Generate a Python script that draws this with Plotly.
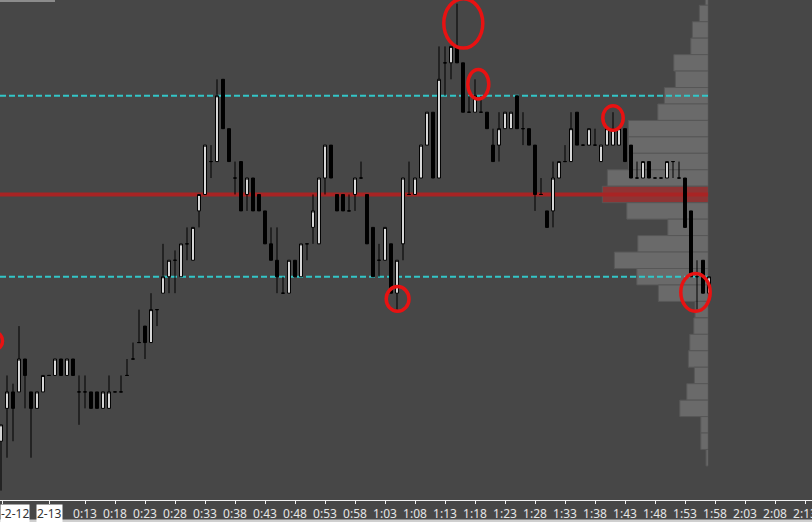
import plotly.graph_objects as go

# one candle per minute, minute 0 = 00:00 on 2-13
minutes = list(range(-1, 118))

opens = [6003, 6005, 6006, 6006, 6008, 6006, 6005, 6006, 6007, 6007,
         6008, 6007, 6008, 6006, 6006, 6006, 6006, 6005, 6005, 6006,
         6006, 6007, 6008, 6009, 6010, 6009, 6011, 6012, 6013, 6014,
         6013, 6015, 6014, 6017, 6018, 6020, 6020, 6025, 6022, 6019,
         6020, 6018, 6019, 6018, 6017, 6015, 6014, 6012, 6012, 6014,
         6013, 6015, 6016, 6015, 6019, 6021, 6018, 6018, 6017, 6018,
         6019, 6018, 6016, 6014, 6014, 6015, 6012, 6015, 6018, 6018,
         6019, 6021, 6023, 6019, 6026, 6026, 6027, 6026, 6023, 6023,
         6023, 6023, 6021, 6021, 6022, 6022, 6024, 6022, 6022, 6021,
         6018, 6017, 6017, 6019, 6020, 6020, 6023, 6021, 6021, 6021,
         6020, 6021, 6021, 6021, 6022, 6021, 6019, 6019, 6020, 6019,
         6019, 6019, 6020, 6019, 6019, 6017, 6013, 6014, 6012]
highs = [6004, 6007, 6006.5, 6010, 6008, 6006, 6006, 6007, 6007, 6008,
         6008, 6008, 6008, 6007, 6007, 6006, 6006, 6006, 6007, 6006,
         6007, 6008, 6009, 6011, 6010, 6012, 6011, 6015, 6014, 6014.6,
         6015, 6016, 6016, 6018, 6021, 6021, 6025, 6025, 6022, 6020,
         6020, 6019, 6019, 6018, 6017, 6016, 6016, 6013, 6014, 6014,
         6015, 6015, 6018, 6019, 6021, 6021, 6018, 6018, 6018, 6019,
         6020, 6018, 6016, 6015, 6016, 6015, 6014, 6019, 6020, 6019,
         6021, 6023, 6023, 6027, 6027, 6027, 6029.6, 6026, 6024, 6025,
         6024, 6023, 6022, 6023, 6023, 6023, 6024, 6023, 6022, 6021,
         6019, 6017, 6020, 6020, 6021, 6023, 6023, 6021, 6022, 6022,
         6021, 6022, 6023, 6022, 6022, 6021, 6020, 6020, 6020, 6019,
         6019, 6020, 6020, 6020, 6019, 6017, 6014, 6014, 6013]
lows = [6000, 6002, 6003, 6006, 6005, 6002, 6005, 6006, 6007, 6007,
        6007, 6007, 6007, 6004, 6005, 6005, 6005, 6005, 6005, 6006,
        6006, 6007, 6008, 6009, 6008, 6009, 6010, 6012, 6012, 6012,
        6013, 6014, 6014, 6016, 6018, 6019, 6020, 6022, 6020, 6018,
        6017, 6017, 6017, 6017, 6015, 6014, 6012, 6012, 6012, 6013,
        6013, 6014, 6015, 6015, 6018, 6019, 6017, 6017, 6017, 6017,
        6019, 6015, 6013, 6013, 6014, 6012, 6011, 6014, 6018, 6018,
        6019, 6021, 6019, 6019, 6024, 6025, 6026, 6023, 6023, 6023,
        6023, 6022, 6020, 6020, 6022, 6022, 6022, 6021, 6021, 6017,
        6018, 6016, 6016, 6019, 6020, 6020, 6021, 6021, 6021, 6021,
        6020, 6021, 6021, 6021, 6020, 6019, 6019, 6019, 6019, 6019,
        6019, 6019, 6019, 6019, 6016, 6013, 6011, 6012, 6012]
closes = [6004, 6006, 6005, 6008, 6007, 6005, 6006, 6007, 6007, 6008,
          6007, 6008, 6007, 6006, 6006, 6005, 6005, 6006, 6006, 6006,
          6006, 6007, 6008, 6009, 6009, 6011, 6011, 6013, 6014, 6014,
          6015, 6015, 6016, 6018, 6021, 6020, 6024, 6022, 6020, 6019,
          6017, 6019, 6017, 6017, 6015, 6014, 6013, 6012, 6014, 6013,
          6015, 6015, 6017, 6019, 6021, 6019, 6017, 6017, 6017, 6019,
          6019, 6015, 6013, 6014, 6016, 6012, 6014, 6019, 6018, 6019,
          6021, 6023, 6019, 6025, 6026, 6027, 6026, 6023, 6023, 6024,
          6023, 6022, 6020, 6022, 6023, 6023, 6022, 6022, 6021, 6018,
          6018, 6016, 6019, 6020, 6020, 6022, 6021, 6021, 6022, 6021,
          6021, 6022, 6022, 6022, 6020, 6019, 6019, 6020, 6019, 6019,
          6019, 6020, 6020, 6019, 6016, 6013, 6013, 6012, 6013]

# volume profile, one row per price level
profile_price = [6030, 6029, 6028, 6027, 6026, 6025, 6024, 6023, 6022, 6021,
                 6020, 6019, 6018, 6017, 6016, 6015, 6014, 6013, 6012, 6011,
                 6010, 6009, 6008, 6007, 6006, 6005, 6004, 6003, 6002]
profile_volume = [60, 180, 320, 350, 690, 660, 880, 1010, 1600, 1600,
                  1600, 2020, 2120, 1630, 810, 1410, 1880, 1430, 1000, 265,
                  290, 370, 400, 280, 430, 570, 150, 150, 45]

value_area_high = 6024
point_of_control = 6018
value_area_low = 6013

tick_minutes = [13, 18, 23, 28, 33, 38, 43, 48, 53, 58, 63, 68, 73, 78,
                83, 88, 93, 98, 103, 108, 113, 118, 123, 128, 133]
tick_labels = ["0:13", "0:18", "0:23", "0:28", "0:33", "0:38", "0:43", "0:48",
               "0:53", "0:58", "1:03", "1:08", "1:13", "1:18", "1:23", "1:28",
               "1:33", "1:38", "1:43", "1:48", "1:53", "1:58", "2:03", "2:08",
               "2:13"]
date_minutes = [-0.83, 7]
date_labels = ["-2-12", "2-13"]

# hand drawn marks: (minute from, minute to, price low, price high)
highlights = [
    (72.8, 79.3, 6026.9, 6029.9),
    (76.8, 80.3, 6023.8, 6025.6),
    (99.3, 102.7, 6021.9, 6023.4),
    (63.2, 67.0, 6010.9, 6012.4),
    (112.3, 117.2, 6010.9, 6013.2),
    (-3.0, -0.75, 6008.6, 6009.6),
]

BG = "#474747"
PX_PER_MIN = 6.0
X_LEFT = -7 / PX_PER_MIN
X_RIGHT = (812 - 7) / PX_PER_MIN
Y_RANGE = [5999.43, 6029.82]
PROFILE_MAX = 14166
PROFILE_DOMAIN = 708.3 / 812

fig = go.Figure()

bar_colors = ["#8e3434" if p == point_of_control else "#6a6a6a" for p in profile_price]
fig.add_trace(go.Bar(
    x=profile_volume, y=profile_price, orientation="h", width=1.0,
    marker=dict(color=bar_colors, line=dict(color="#575757", width=1)),
    xaxis="x", yaxis="y", hoverinfo="skip", showlegend=False))

for level, color, width, dash in [
        (value_area_high, "#33c6c8", 2, "6px,3px"),
        (value_area_low, "#33c6c8", 2, "6px,3px"),
        (point_of_control, "#a82424", 4, "solid")]:
    fig.add_trace(go.Scatter(
        x=[PROFILE_MAX, 0], y=[level, level], mode="lines",
        line=dict(color=color, width=width, dash=dash),
        xaxis="x", yaxis="y", hoverinfo="skip", showlegend=False))

fig.add_trace(go.Candlestick(
    x=minutes, open=opens, high=highs, low=lows, close=closes,
    increasing=dict(fillcolor="#dcdcdc", line=dict(color="#000000", width=1)),
    decreasing=dict(fillcolor="#000000", line=dict(color="#000000", width=1)),
    xaxis="x2", yaxis="y2", showlegend=False))

shapes = []
for x0, x1, y0, y1 in highlights:
    shapes.append(dict(type="circle", xref="x2", yref="y2",
                       x0=x0, x1=x1, y0=y0, y1=y1,
                       line=dict(color="#e81212", width=3.5)))
# window chrome bits
shapes.append(dict(type="rect", xref="paper", yref="paper",
                   x0=0, x1=1, y0=-0.044, y1=-0.039,
                   fillcolor="#cfcfcf", line=dict(width=0)))
shapes.append(dict(type="rect", xref="paper", yref="paper",
                   x0=0, x1=55 / 812, y0=0.996, y1=1,
                   fillcolor="#8c8c8c", line=dict(width=0)))

annotations = []
for xm, label in zip(date_minutes, date_labels):
    left = xm < 0
    annotations.append(dict(
        x=X_LEFT if left else xm, xref="x2", y=-0.008, yref="paper",
        xanchor="left" if left else "center", yanchor="top",
        text=label, showarrow=False, bgcolor="#ffffff", borderpad=0,
        font=dict(family="Noto Sans", size=12, color="#333333")))

fig.update_layout(
    width=812, height=522,
    margin=dict(l=0, r=0, t=0, b=22, autoexpand=False),
    paper_bgcolor=BG, plot_bgcolor="rgba(0,0,0,0)",
    showlegend=False, hovermode=False,
    xaxis=dict(domain=[0, PROFILE_DOMAIN], range=[PROFILE_MAX, 0], anchor="y",
               visible=False, fixedrange=True),
    yaxis=dict(domain=[0, 1], range=Y_RANGE, anchor="x", visible=False),
    xaxis2=dict(domain=[0, 1], range=[X_LEFT, X_RIGHT], anchor="y2",
                rangeslider=dict(visible=False), showgrid=False, zeroline=False,
                automargin=False,
                showline=True, linecolor="#f0f0f0", linewidth=1,
                ticks="outside", ticklen=3, tickcolor="#f0f0f0",
                ticklabeloverflow="allow",
                tickvals=date_minutes + tick_minutes,
                ticktext=["", ""] + tick_labels,
                tickfont=dict(family="Noto Sans", size=12, color="#e6e6e6")),
    yaxis2=dict(domain=[0, 1], range=Y_RANGE, anchor="x2", matches="y",
                visible=False),
    shapes=shapes, annotations=annotations,
)

fig.write_html("out.html", config={"displayModeBar": False},
               post_script="document.body.style.margin='0';"
                           "document.body.style.overflow='hidden';")
